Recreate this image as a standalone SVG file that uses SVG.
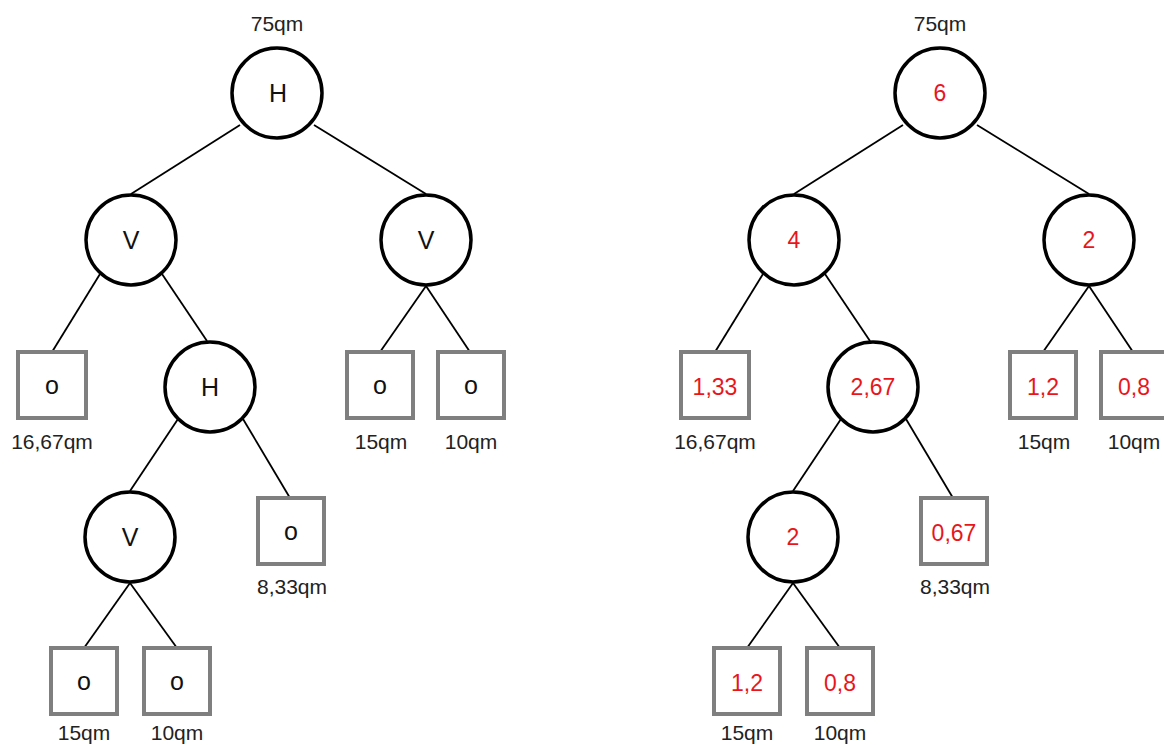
<svg xmlns="http://www.w3.org/2000/svg" width="1164" height="745" viewBox="0 0 1164 745">
<style>
.c{fill:#fff;stroke:#000;stroke-width:3.5}
.b{fill:#fff;stroke:#7f7f7f;stroke-width:4}
.e{stroke:#000;stroke-width:1.8;fill:none}
.t{font-family:"Liberation Sans",Arial,sans-serif;font-size:21px;fill:#222;text-anchor:middle}
.n{font-family:"Liberation Sans",Arial,sans-serif;font-size:25px;fill:#111;text-anchor:middle}
.r{font-family:"Liberation Sans",Arial,sans-serif;font-size:23px;fill:#e8161b;text-anchor:middle}
</style>
<rect width="1164" height="745" fill="#fff"/>
<g id="connectors">
<line class="e" x1="240" y1="125" x2="131" y2="194"/>
<line class="e" x1="314" y1="125" x2="426" y2="194"/>
<line class="e" x1="100" y1="274" x2="52" y2="352"/>
<line class="e" x1="162" y1="274" x2="207" y2="341"/>
<line class="e" x1="178" y1="419" x2="130" y2="491"/>
<line class="e" x1="243" y1="419" x2="290" y2="498"/>
<line class="e" x1="130" y1="583" x2="84" y2="648"/>
<line class="e" x1="130" y1="583" x2="177" y2="648"/>
<line class="e" x1="426" y1="286" x2="380" y2="352"/>
<line class="e" x1="426" y1="286" x2="470" y2="352"/>
<line class="e" x1="903" y1="125" x2="794" y2="194"/>
<line class="e" x1="977" y1="125" x2="1089" y2="194"/>
<line class="e" x1="763" y1="274" x2="715" y2="352"/>
<line class="e" x1="825" y1="274" x2="870" y2="341"/>
<line class="e" x1="841" y1="419" x2="793" y2="491"/>
<line class="e" x1="906" y1="419" x2="953" y2="498"/>
<line class="e" x1="793" y1="583" x2="747" y2="648"/>
<line class="e" x1="793" y1="583" x2="840" y2="648"/>
<line class="e" x1="1089" y1="286" x2="1043" y2="352"/>
<line class="e" x1="1089" y1="286" x2="1133" y2="352"/>
</g>
<g id="L_root"><text class="t" x="277" y="31">75qm</text><circle class="c" cx="277" cy="93" r="45"/><text class="n" x="278" y="102">H</text></g>
<g id="L_v1"><circle class="c" cx="131" cy="240" r="45"/><text class="n" x="131" y="249">V</text></g>
<g id="L_v2"><circle class="c" cx="426" cy="240" r="45"/><text class="n" x="426" y="249">V</text></g>
<g id="L_b1"><rect class="b" x="18" y="352" width="68" height="66"/><text class="n" x="52" y="394">o</text><text class="t" x="52" y="449">16,67qm</text></g>
<g id="L_h2"><circle class="c" cx="210" cy="387" r="45"/><text class="n" x="210" y="396">H</text></g>
<g id="L_b2"><rect class="b" x="347" y="352" width="66" height="66"/><text class="n" x="380" y="394">o</text><text class="t" x="381" y="449">15qm</text></g>
<g id="L_b3"><rect class="b" x="438" y="352" width="66" height="66"/><text class="n" x="471" y="394">o</text><text class="t" x="471" y="449">10qm</text></g>
<g id="L_v3"><circle class="c" cx="130" cy="537" r="45"/><text class="n" x="130" y="546">V</text></g>
<g id="L_b4"><rect class="b" x="258" y="498" width="66" height="66"/><text class="n" x="291" y="540">o</text><text class="t" x="292" y="594">8,33qm</text></g>
<g id="L_b5"><rect class="b" x="51" y="648" width="66" height="66"/><text class="n" x="84" y="690">o</text><text class="t" x="84" y="740">15qm</text></g>
<g id="L_b6"><rect class="b" x="144" y="648" width="66" height="66"/><text class="n" x="177" y="690">o</text><text class="t" x="177" y="740">10qm</text></g>
<g id="R_root"><text class="t" x="940" y="31">75qm</text><circle class="c" cx="940" cy="93" r="45"/><text class="r" x="940" y="101">6</text></g>
<g id="R_v1"><circle class="c" cx="794" cy="240" r="45"/><text class="r" x="794" y="248">4</text></g>
<g id="R_v2"><circle class="c" cx="1089" cy="240" r="45"/><text class="r" x="1089" y="248">2</text></g>
<g id="R_b1"><rect class="b" x="681" y="352" width="68" height="66"/><text class="r" x="715" y="395">1,33</text><text class="t" x="715" y="449">16,67qm</text></g>
<g id="R_h2"><circle class="c" cx="873" cy="387" r="45"/><text class="r" x="873" y="395">2,67</text></g>
<g id="R_b2"><rect class="b" x="1010" y="352" width="66" height="66"/><text class="r" x="1043" y="395">1,2</text><text class="t" x="1044" y="449">15qm</text></g>
<g id="R_b3"><rect class="b" x="1101" y="352" width="66" height="66"/><text class="r" x="1134" y="395">0,8</text><text class="t" x="1134" y="449">10qm</text></g>
<g id="R_v3"><circle class="c" cx="793" cy="537" r="45"/><text class="r" x="793" y="545">2</text></g>
<g id="R_b4"><rect class="b" x="921" y="498" width="66" height="66"/><text class="r" x="954" y="541">0,67</text><text class="t" x="955" y="594">8,33qm</text></g>
<g id="R_b5"><rect class="b" x="714" y="648" width="66" height="66"/><text class="r" x="747" y="691">1,2</text><text class="t" x="747" y="740">15qm</text></g>
<g id="R_b6"><rect class="b" x="807" y="648" width="66" height="66"/><text class="r" x="840" y="691">0,8</text><text class="t" x="840" y="740">10qm</text></g>
</svg>
